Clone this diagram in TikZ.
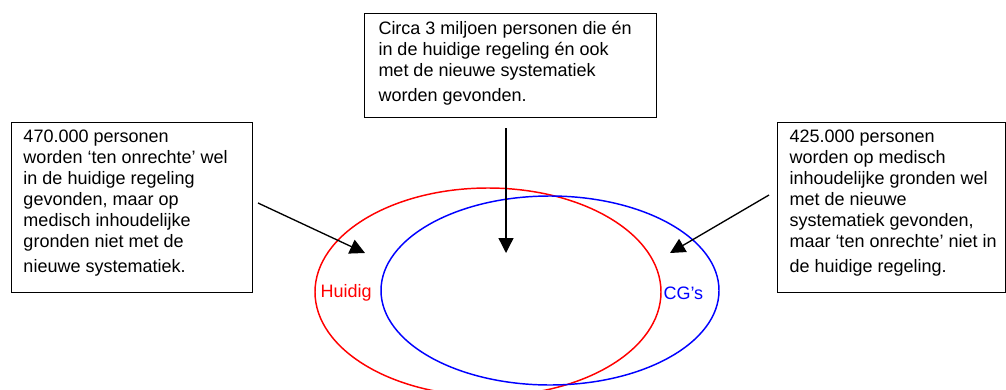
\documentclass[tikz,border=0pt]{standalone}
\usepackage{fontspec}
\setmainfont{Liberation Sans}
\usetikzlibrary{arrows.meta}

\tikzset{every picture/.style={line width=0.75pt}}
\tikzset{
  box/.style={draw, line width=0.9pt, anchor=north west, inner sep=0pt},
  boxtext/.style={anchor=north west, inner sep=0pt, align=left, font=\fontsize{13.5}{15.75}\selectfont},
  setlabel/.style={inner sep=0pt, font=\fontsize{13.5}{16}\selectfont},
  pointer/.style={line width=1pt, -{Triangle[length=11.25pt,width=11.25pt]}}
}

\begin{document}
\begin{tikzpicture}[x=0.75pt,y=0.75pt,yscale=-1,xscale=1]
	\useasboundingbox (0,0) rectangle (1006,389);
	
	%Shape: Ellipse [Huidig]
	\draw [color=red, line width=1.1pt] (488,292) ellipse [x radius=173, y radius=104];
	%Shape: Ellipse [CG's]
	\draw [color=blue, line width=1.1pt] (550,290.5) ellipse [x radius=169, y radius=94.5];
	
	%Shape: Rectangle [left]
	\node (leftbox) [box, minimum width=180.75pt, minimum height=127.5pt] at (11,122) {};
	%Shape: Rectangle [middle]
	\node (midbox) [box, minimum width=219pt, minimum height=78pt] at (364,13) {};
	%Shape: Rectangle [right]
	\node (rightbox) [box, minimum width=171pt, minimum height=127.5pt] at (777,122) {};
	
	% Text Node
	\node (lefttext) [boxtext] at (23,129) {470.000 personen\\worden ‘ten onrechte’ wel\\in de huidige regeling\\gevonden, maar op\\medisch inhoudelijke\\gronden niet met de\\[3pt]nieuwe systematiek.};
	% Text Node
	\node (midtext) [boxtext] at (378,21) {Circa 3 miljoen personen die én\\in de huidige regeling én ook\\met de nieuwe systematiek\\[3pt]worden gevonden.};
	% Text Node
	\node (righttext) [boxtext] at (789,129) {425.000 personen\\worden op medisch\\inhoudelijke gronden wel\\met de nieuwe\\systematiek gevonden,\\maar ‘ten onrechte’ niet in\\[3pt]de huidige regeling.};
	% Text Node
	\node (huidiglabel) [setlabel, text=red, anchor=west] at (320,293) {Huidig};
	% Text Node
	\node (cglabel) [setlabel, text=blue, anchor=west] at (663,293) {CG’s};
	
	\coordinate (leftstart) at (258,203);
	\coordinate (lefttip) at (365,253);
	\coordinate (midstart) at (506,128);
	\coordinate (midtip) at (506,253);
	\coordinate (rightstart) at (769,195);
	\coordinate (righttip) at (670,253);
	
	% Connection
	\draw [pointer] (leftstart) -- (lefttip);
	% Connection
	\draw [pointer] (midstart) -- (midtip);
	% Connection
	\draw [pointer] (rightstart) -- (righttip);
	
\end{tikzpicture}
\end{document}
